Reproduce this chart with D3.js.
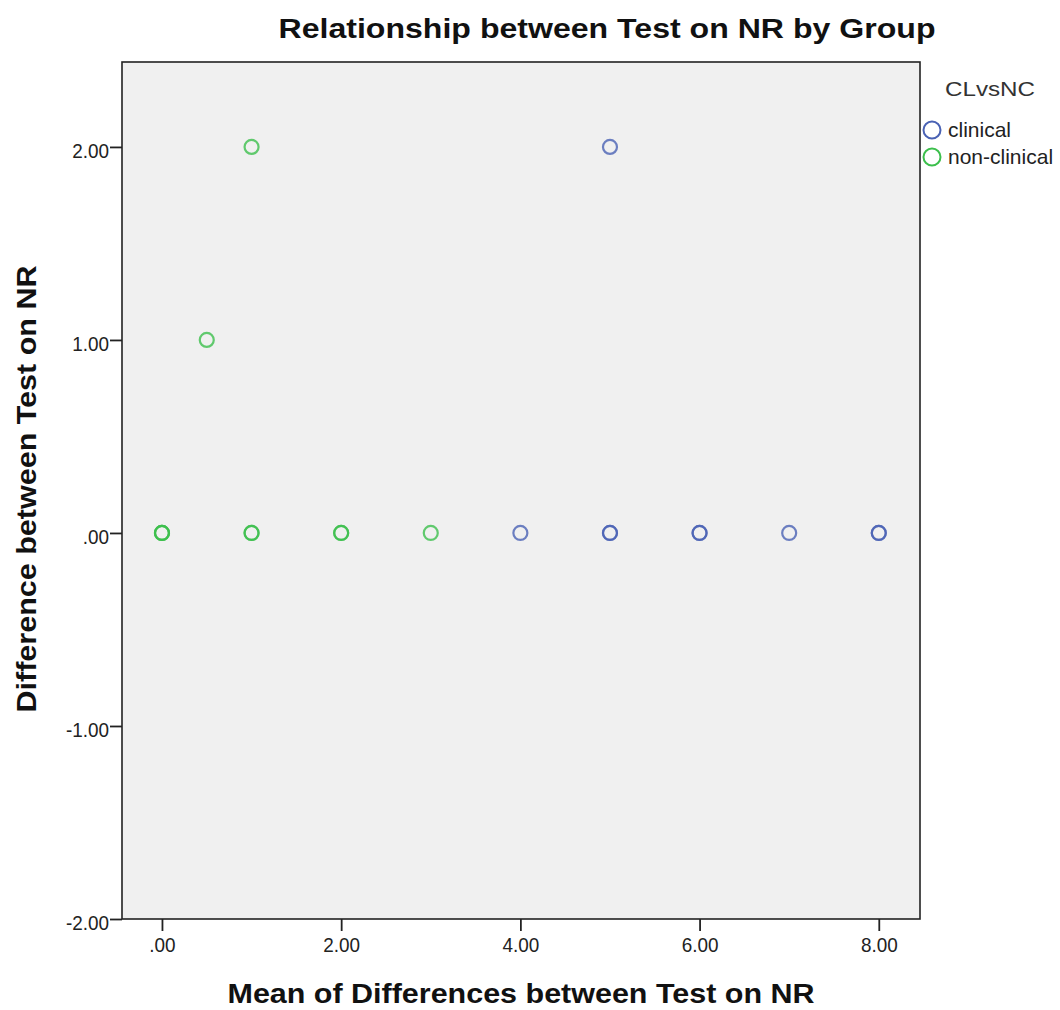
<!DOCTYPE html>
<html><head><meta charset="utf-8">
<script src="https://cdn.jsdelivr.net/npm/d3@7"></script>
<style>body{margin:0;background:#fff;} text{font-family:Arial,"Liberation Sans",sans-serif;}</style>
</head><body><svg id="c" width="1060" height="1010"></svg>
<script>
const groups = ["clinical", "non-clinical"];
const groupColors = ["#4a62b4", "#3cbf4c"];
// [mean, difference] pairs; duplicates overlap (darker rings)
const clinicalX = [4, 5, 5, 5, 6, 6, 7, 8, 8];
const clinicalY = [0, 0, 0, 2, 0, 0, 0, 0, 0];
const nonClinicalX = [0, 0, 0, 0.5, 1, 1, 1, 2, 2, 3];
const nonClinicalY = [0, 0, 0, 1, 2, 0, 0, 0, 0, 0];
const xTicks = [0, 2, 4, 6, 8];
const yTicks = [-2, -1, 0, 1, 2];

const svg = d3.select("#c");
const L = 122, R = 920, T = 62, B = 919;
const x = d3.scaleLinear().domain([-0.446, 8.46]).range([L, R]);
const y = d3.scaleLinear().domain([-2, 2.44]).range([B, T]);

svg.append("rect").attr("x", L).attr("y", T).attr("width", R - L).attr("height", B - T)
  .attr("fill", "#f0f0f0").attr("stroke", "#222").attr("stroke-width", 1.6);

const fmt = d => d === 0 ? ".00" : d3.format(".2f")(d).replace("\u2212", "-");
const xa = svg.append("g").attr("transform", `translate(0,${B})`)
  .call(d3.axisBottom(x).tickValues(xTicks).tickFormat(fmt).tickSize(12).tickPadding(6));
const ya = svg.append("g").attr("transform", `translate(${L},0)`)
  .call(d3.axisLeft(y).tickValues(yTicks).tickFormat(fmt).tickSize(12).tickPadding(1));
[xa, ya].forEach(a => {
  a.select(".domain").remove();
  a.selectAll(".tick line").attr("stroke", "#222").attr("stroke-width", 1.8);
  a.selectAll(".tick text").attr("font-size", 21).attr("fill", "#222")
    .attr("font-family", "Arial, 'Liberation Sans', sans-serif");
});
xa.selectAll(".tick text").attr("dy", "0.71em");
ya.selectAll(".tick text").attr("dy", "0.5em");
[xa, ya].forEach(a => a.selectAll(".tick text").each(function() {
  const w = this.getComputedTextLength();
  d3.select(this).attr("textLength", w * 0.9).attr("lengthAdjust", "spacingAndGlyphs");
}));

const series = [
  {g: 0, xs: clinicalX, ys: clinicalY},
  {g: 1, xs: nonClinicalX, ys: nonClinicalY}
];
series.forEach(s => {
  svg.append("g").selectAll("circle").data(s.xs.map((v, i) => [v, s.ys[i]]))
    .join("circle").attr("cx", d => x(d[0])).attr("cy", d => y(d[1])).attr("r", 7)
    .attr("fill", "none").attr("stroke", groupColors[s.g]).attr("stroke-width", 2.2)
    .attr("stroke-opacity", 0.8);
});

function label(t, size, len) {
  t.attr("font-size", size).attr("font-weight", "bold").attr("fill", "#111")
   .attr("text-anchor", "middle").attr("textLength", len).attr("lengthAdjust", "spacingAndGlyphs");
}
svg.append("text").attr("x", 607).attr("y", 38).call(label, 27, 657)
  .text("Relationship between Test on NR by Group");
svg.append("text").attr("x", 521).attr("y", 1003).call(label, 27, 587)
  .text("Mean of Differences between Test on NR");
svg.append("text").attr("transform", "translate(36,489) rotate(-90)").call(label, 27, 447)
  .text("Difference between Test on NR");

svg.append("text").attr("x", 945).attr("y", 96).attr("font-size", 21).attr("fill", "#333")
  .attr("textLength", 90).attr("lengthAdjust", "spacingAndGlyphs").text("CLvsNC");
groups.forEach((g, i) => {
  const cy = 130 + i * 27;
  svg.append("circle").attr("cx", 932).attr("cy", cy).attr("r", 8.5).attr("fill", "none")
    .attr("stroke", groupColors[i]).attr("stroke-width", 2);
  svg.append("text").attr("x", 948).attr("y", cy + 7).attr("font-size", 21).attr("fill", "#222").text(g);
});
</script></body></html>
